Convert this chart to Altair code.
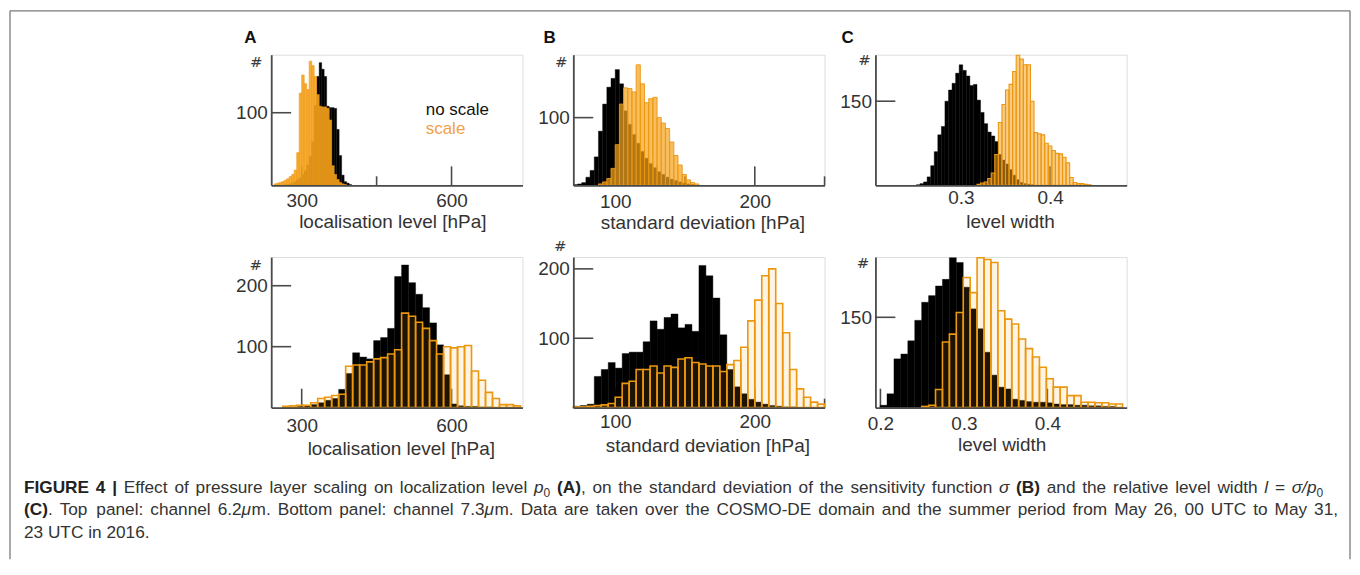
import altair as alt
import pandas as pd

# ---------------- data (histogram counts) ----------------
# Top row: channel 6.2um ; bottom row: channel 7.3um
A_TOP_BIN = 5
A_TOP_BLACK_START = 265
A_TOP_BLACK = [1, 1, 2, 3, 5, 8, 10, 15, 20, 28, 40, 60, 110, 150, 169, 160, 150, 109,
               107, 107, 106, 77, 41, 14, 5, 3, 1]
A_TOP_ORANGE_START = 245
A_TOP_ORANGE = [2, 3, 4, 5, 7, 9, 12, 15, 21, 45, 127, 152, 140, 132, 171, 165, 150, 125,
                109, 108, 108, 106, 90, 27, 15, 8, 4, 2, 1]

B_TOP_BIN = 3
B_TOP_BLACK_START = 70
B_TOP_BLACK = [1, 2, 4, 12, 22, 42, 80, 120, 145, 158, 171, 150, 110, 90, 75, 62, 50, 40,
               32, 26, 20, 16, 12, 9, 7, 5, 3, 2, 1]
B_TOP_ORANGE_START = 88
B_TOP_ORANGE = [2, 5, 10, 25, 60, 120, 144, 143, 138, 178, 150, 122, 128, 130, 100, 92, 84,
                64, 44, 30, 16, 8, 4, 2]

C_TOP_BIN = 0.004
C_TOP_BLACK_START = 0.250
C_TOP_BLACK = [1, 3, 6, 15, 35, 60, 90, 105, 150, 170, 182, 200, 215, 205, 195, 178, 180,
               152, 130, 110, 95, 88, 78, 55, 45, 38, 28, 18, 10, 5, 3, 2, 1]
C_TOP_ORANGE_START = 0.318
C_TOP_ORANGE = [2, 4, 6, 12, 22, 55, 112, 144, 170, 180, 203, 232, 225, 215, 215, 150, 94,
                92, 90, 75, 70, 62, 57, 56, 50, 40, 14, 5, 3, 3, 2, 1]

A_BOT_BIN = 14
A_BOT_BLACK_START = 262
A_BOT_BLACK = [1, 1, 2, 3, 5, 8, 12, 15, 30, 56, 90, 83, 80, 110, 115, 130, 215, 234, 205,
               186, 164, 139, 103, 54, 6, 3, 2, 2, 1, 1]
A_BOT_ORANGE_START = 262
A_BOT_ORANGE = [2, 3, 4, 4, 8, 15, 17, 20, 22, 68, 70, 70, 75, 80, 82, 88, 95, 155, 150,
                140, 130, 110, 88, 100, 98, 100, 102, 60, 45, 25, 15, 5, 5, 3]

B_BOT_BIN = 5
B_BOT_BLACK_START = 70
B_BOT_BLACK = [2, 3, 5, 45, 55, 65, 57, 78, 80, 80, 95, 125, 113, 130, 135, 115, 120, 110,
               205, 190, 158, 105, 55, 30, 20, 12, 8, 5, 3, 2, 1, 1]
B_BOT_ORANGE_START = 70
B_BOT_ORANGE = [1, 1, 2, 3, 4, 6, 15, 35, 38, 55, 55, 60, 50, 60, 58, 70, 72, 65, 63, 60,
                60, 52, 62, 68, 87, 125, 155, 190, 200, 150, 108, 55, 27, 15, 8, 5]

C_BOT_BIN = 0.0083
C_BOT_BLACK_START = 0.1996
C_BOT_BLACK = [4, 23, 81, 89, 111, 145, 175, 186, 202, 213, 249, 241, 200, 164, 131, 92,
               54, 34, 31, 14, 12, 10, 9, 9, 8, 6, 5, 5, 4, 4, 3, 3, 2, 2]
C_BOT_ORANGE_START = 0.2494
C_BOT_ORANGE = [2, 4, 30, 109, 122, 158, 216, 191, 249, 246, 241, 161, 147, 139, 114, 98,
                84, 67, 48, 34, 34, 20, 20, 9, 9, 8, 8, 6, 6]

# ---------------- styles ----------------
FONT = "Liberation Sans"
AX = "#4a4a4a"
TXT = "#333333"
ORANGE = "#F5A31F"
ORANGE_EDGE = "#EC9710"
FRAME = "#7a7a7a"
W = 252

ONE = alt.Data(values=[{"k": 0}])


def hist(start, width, counts):
    return pd.DataFrame({
        "x": [start + i * width for i in range(len(counts))],
        "x2": [start + (i + 1) * width for i in range(len(counts))],
        "y": counts,
        "y0": [0] * len(counts),
    })


def label(text, x, y, size, color=TXT, weight="normal", style="normal",
          align="left", baseline="alphabetic", font=FONT):
    return alt.Chart(ONE).mark_text(
        text=text, font=font, fontSize=size, fontWeight=weight, fontStyle=style,
        color=color, align=align, baseline=baseline
    ).encode(x=alt.value(x), y=alt.value(y))


def hash_mark(x, y):
    return label("#", x, y, 15, color="#3a3a3a", align="center", baseline="middle",
                 font="DejaVu Sans")


def panel(black, orange, xdom, ydom, h, xlabels, xmajor, xminor, ymajor, fmt,
          title, tx, ty, lpad, op, sw, extra):
    xs = alt.Scale(domain=xdom, nice=False, zero=False)
    ys = alt.Scale(domain=ydom, nice=False, zero=True)
    xax = alt.Axis(values=xlabels, format=fmt, ticks=False, tickSize=0, grid=False,
                   domainColor=AX, domainWidth=1.8, zindex=1,
                   labelFont=FONT, labelFontSize=19, labelColor=TXT, labelPadding=lpad,
                   labelFlush=False, labelOverlap=False,
                   title=title, titleFont=FONT, titleFontSize=19, titleFontWeight="normal",
                   titleColor=TXT, titleX=tx, titleY=ty, titleBaseline="alphabetic",
                   titleAlign="center")
    yax = alt.Axis(values=ymajor, format="d", ticks=False, tickSize=0, grid=False,
                   domainColor=AX, domainWidth=1.8, zindex=1,
                   labelFont=FONT, labelFontSize=19, labelColor=TXT, labelPadding=4,
                   labelOverlap=False, title=None)
    X = alt.X("x:Q", scale=xs, axis=xax)
    Y = alt.Y("y:Q", scale=ys, axis=yax)
    layers = [
        alt.Chart(pd.DataFrame({"x": xmajor})).mark_rule(color=AX, strokeWidth=1.6)
        .encode(x=X, y=alt.value(h), y2=alt.value(h - 19)),
    ]
    if xminor:
        layers.append(
            alt.Chart(pd.DataFrame({"x": xminor})).mark_rule(color=AX, strokeWidth=1.6)
            .encode(x=X, y=alt.value(h), y2=alt.value(h - 9)))
    layers.append(
        alt.Chart(pd.DataFrame({"y": ymajor})).mark_rule(color=AX, strokeWidth=1.6)
        .encode(y=Y, x=alt.value(0), x2=alt.value(20)))
    layers.append(
        alt.Chart(black).mark_rect(fill="black", stroke="black", strokeWidth=0.4)
        .encode(x=X, x2=alt.X2("x2"), y=Y, y2=alt.Y2("y0")))
    layers.append(
        alt.Chart(orange).mark_rect(fill=ORANGE, fillOpacity=op, stroke=ORANGE_EDGE,
                                    strokeWidth=sw)
        .encode(x=X, x2=alt.X2("x2"), y=Y, y2=alt.Y2("y0")))
    return alt.layer(*layers, *extra).properties(width=W, height=h)


# ---------------- caption layout (Arial/Liberation Sans metrics) ----------------
CAP_FS = 17.3
SUB_FS = 12
REG_W = {}
for chars, w in [("abdeghnopqu0123456789L", 556), ("cksvxyzJ", 500), ("ft .,:/I", 278),
                 ("ijl", 222), ("r()-", 333), ("mM", 833), ("wCDHNRU", 722),
                 ("ABEKPSVXY", 667), ("FTZ", 611), ("GOQ", 778), ("W", 944),
                 ("=", 584), ("|", 260), ("σ", 600), ("μ", 576)]:
    for c in chars:
        REG_W[c] = w
BOLD_W = dict(REG_W)
for chars, w in [("ABCRUDHN", 722), ("E", 667), ("F", 611), ("GO", 778), ("I ", 278),
                 ("()", 333), ("|", 280)]:
    for c in chars:
        BOLD_W[c] = w


def text_w(s, st):
    table = BOLD_W if st == "b" else REG_W
    fs = SUB_FS if st == "sub" else CAP_FS
    return sum(table.get(c, 556) for c in s) / 1000.0 * fs


def layout_line(runs, x0, x1, justify):
    pieces = []
    gap = False
    for text, st in runs:
        parts = text.split(" ")
        for j, p in enumerate(parts):
            if j > 0:
                gap = True
            if p:
                pieces.append((p, st, gap))
                gap = False
    widths = [text_w(p, st) for p, st, g in pieces]
    ngaps = sum(1 for p in pieces if p[2])
    space = 0.278 * CAP_FS
    natural = sum(widths) + ngaps * space
    extra = (x1 - x0 - natural) / ngaps if (justify and ngaps) else 0.0
    out, x = [], x0
    for (p, st, g), w in zip(pieces, widths):
        if g:
            x += space + extra
        out.append((p, st, x))
        x += w
    return out


LINE1 = [("FIGURE 4 |", "b"), (" Effect of pressure layer scaling on localization level ", "r"),
         ("p", "i"), ("0", "sub"), (" ", "r"), ("(A)", "b"),
         (", on the standard deviation of the sensitivity function ", "r"), ("σ", "i"),
         (" ", "r"), ("(B)", "b"), (" and the relative level width ", "r"), ("l", "i"),
         (" = ", "r"), ("σ/p", "i"), ("0", "sub")]
LINE2 = [("(C)", "b"), (". Top panel: channel 6.2", "r"), ("μ", "i"),
         ("m. Bottom panel: channel 7.3", "r"), ("μ", "i"),
         ("m. Data are taken over the COSMO-DE domain and the summer period from May 26, 00 UTC to May 31,", "r")]
LINE3 = [("23 UTC in 2016.", "r")]

# positions relative to top-left panel origin (page 270, 52)
caption_layers = []
for runs, yb, x1, just in [(LINE1, 439.7, 1055, True), (LINE2, 462.0, 1070, True),
                           (LINE3, 484.7, 0, False)]:
    for p, st, x in layout_line(runs, -248, x1, just):
        if st == "b":
            caption_layers.append(label(p, x, yb, CAP_FS, color="#222222", weight="bold"))
        elif st == "i":
            caption_layers.append(label(p, x, yb, CAP_FS, style="italic"))
        elif st == "sub":
            caption_layers.append(label(p, x, yb + 4, SUB_FS))
        else:
            caption_layers.append(label(p, x, yb, CAP_FS))

frame_layers = [
    alt.Chart(ONE).mark_rule(color=FRAME, strokeWidth=1.3)
    .encode(x=alt.value(-262), y=alt.value(-44), y2=alt.value(506)),
    alt.Chart(ONE).mark_rule(color=FRAME, strokeWidth=1.3)
    .encode(x=alt.value(-262), x2=alt.value(1082), y=alt.value(-44)),
    alt.Chart(ONE).mark_rule(color=FRAME, strokeWidth=1.3)
    .encode(x=alt.value(1082), y=alt.value(-44), y2=alt.value(506)),
]

# ---------------- panels ----------------
A1 = panel(hist(A_TOP_BLACK_START, A_TOP_BIN, A_TOP_BLACK),
           hist(A_TOP_ORANGE_START, A_TOP_BIN, A_TOP_ORANGE),
           [239, 742], [0, 180], 131, [300, 600], [300, 600], [450], [100], "d",
           "localisation level [hPa]", 121.5, 42.5, 6, 0.9, 0.6,
           frame_layers + [
               label("A", -27, -12, 17, color="#111111", weight="bold"),
               hash_mark(-15, 7),
               label("no scale", 155, 60.7, 17, color="#111111"),
               label("scale", 155, 79.7, 17, color="#F2A04A"),
           ] + caption_layers)

B1 = panel(hist(B_TOP_BLACK_START, B_TOP_BIN, B_TOP_BLACK),
           hist(B_TOP_ORANGE_START, B_TOP_BIN, B_TOP_ORANGE),
           [70, 250], [0, 193], 131, [100, 200], [100, 200], [150, 250], [100], "d",
           "standard deviation [hPa]", 129.5, 43.5, 7, 0.72, 0.9,
           [label("B", -30, -12, 17, color="#111111", weight="bold"),
            hash_mark(-12, 7)])

C1 = panel(hist(C_TOP_BLACK_START, C_TOP_BIN, C_TOP_BLACK),
           hist(C_TOP_ORANGE_START, C_TOP_BIN, C_TOP_ORANGE),
           [0.204, 0.486], [0, 233], 131, [0.3, 0.4], [0.3, 0.4], [], [150], ".1f",
           "level width", 135, 42, 3.5, 0.55, 1.1,
           [label("C", -34, -12, 17, color="#111111", weight="bold"),
            hash_mark(-11, 5.5)])

A2 = panel(hist(A_BOT_BLACK_START, A_BOT_BIN, A_BOT_BLACK),
           hist(A_BOT_ORANGE_START, A_BOT_BIN, A_BOT_ORANGE),
           [239, 742], [0, 247], 151, [300, 600], [300, 600], [450], [100, 200], "d",
           "localisation level [hPa]", 130, 47.5, 8.5, 0.12, 1.6,
           [hash_mark(-15.5, 7.5)])

B2 = panel(hist(B_BOT_BLACK_START, B_BOT_BIN, B_BOT_BLACK),
           hist(B_BOT_ORANGE_START, B_BOT_BIN, B_BOT_ORANGE),
           [70, 250], [0, 217], 151, [100, 200], [100, 200], [150, 250], [100, 200], "d",
           "standard deviation [hPa]", 134.5, 44, 4.5, 0.12, 1.6,
           [hash_mark(-13, -11)])

C2 = panel(hist(C_BOT_BLACK_START, C_BOT_BIN, C_BOT_BLACK),
           hist(C_BOT_ORANGE_START, C_BOT_BIN, C_BOT_ORANGE),
           [0.194, 0.495], [0, 250], 151, [0.2, 0.3, 0.4], [0.2, 0.3, 0.4], [], [150], ".1f",
           "level width", 126.6, 43, 7, 0.12, 1.6,
           [hash_mark(-12.5, 6)])

chart = alt.concat(
    A1, B1, C1, A2, B2, C2,
    columns=3,
    spacing=alt.RowColnumber(row=72, column=51),
    bounds="flush",
    padding=0,
).configure_view(strokeWidth=0).configure(font=FONT, background="white")

chart.save("out.html", embed_options={"renderer": "svg", "actions": False})
